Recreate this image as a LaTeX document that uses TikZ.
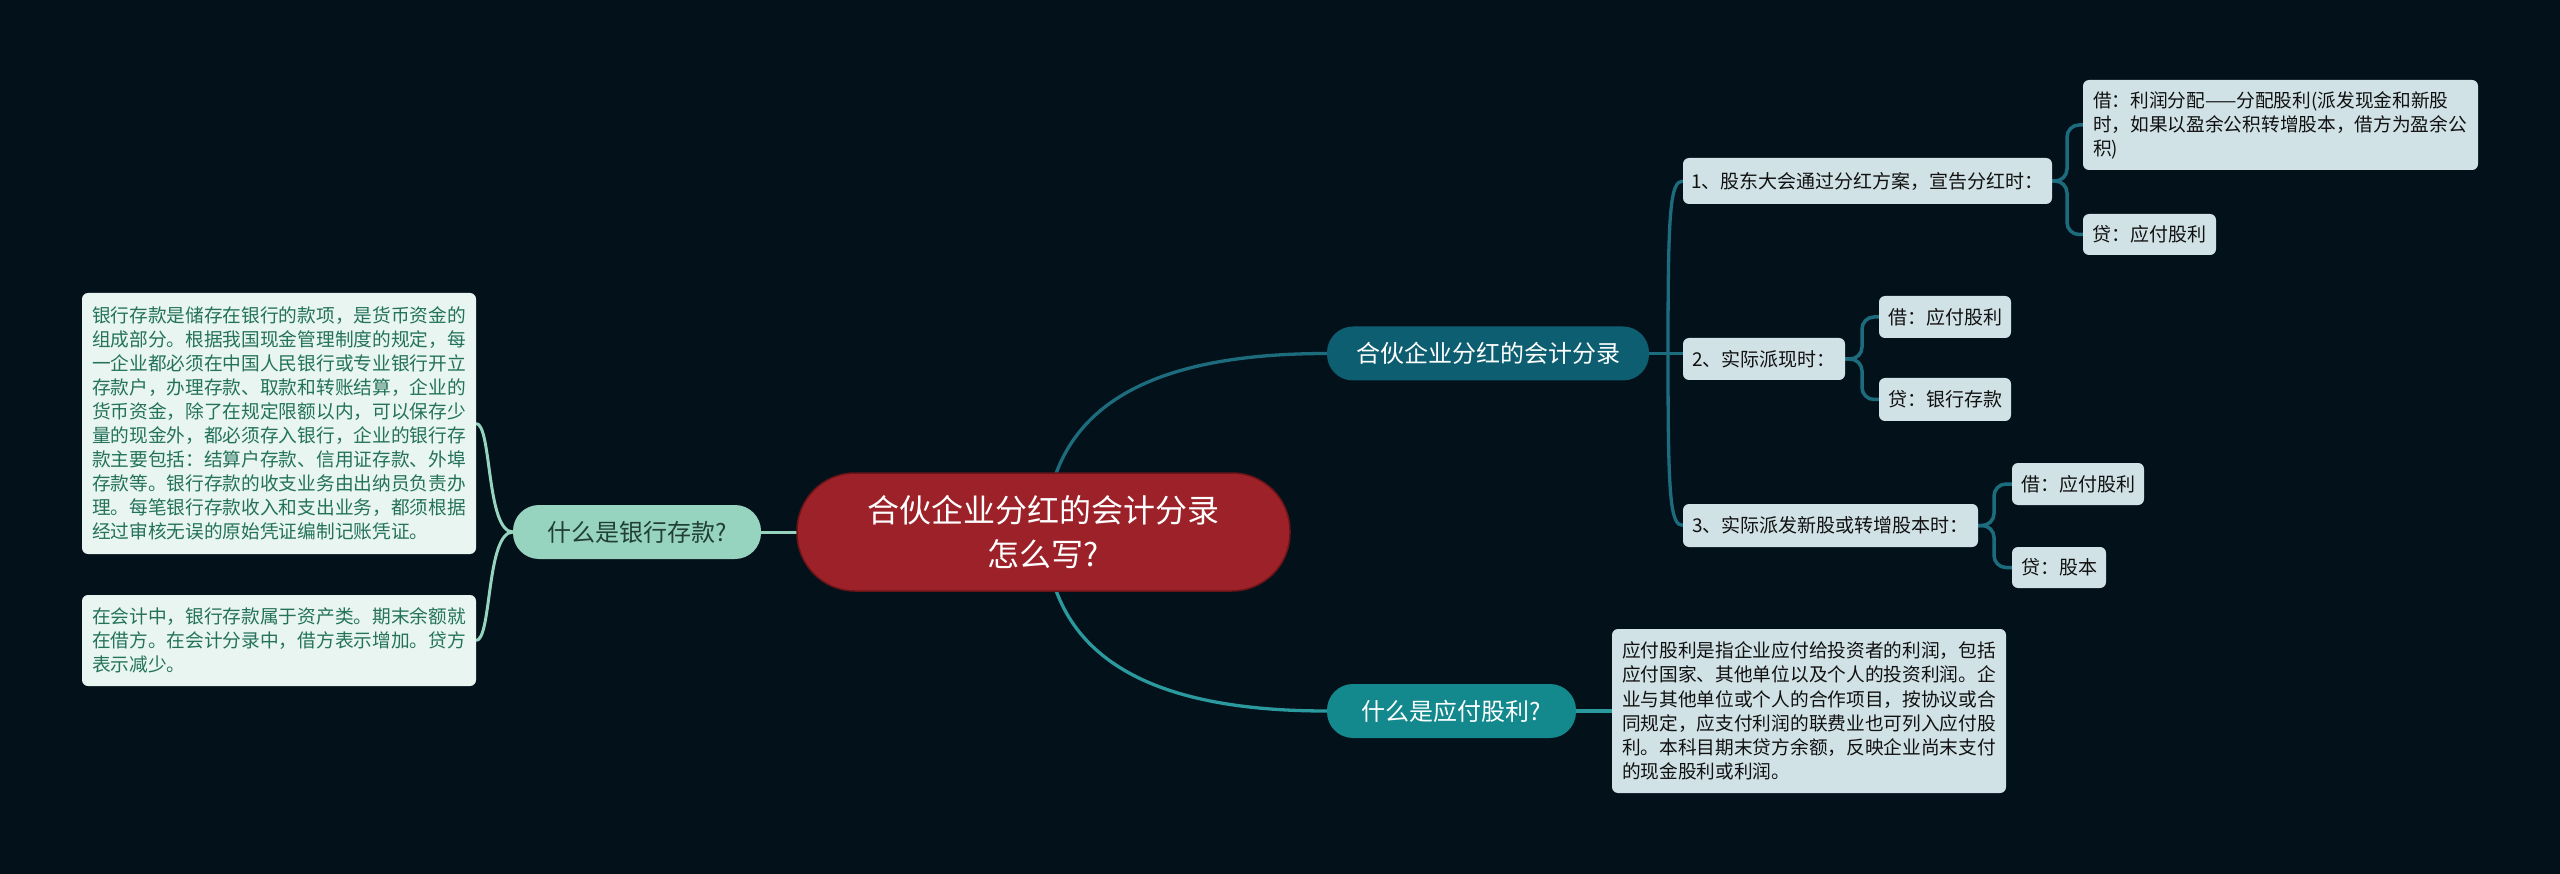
\documentclass[tikz,border=0pt]{standalone}
\usepackage{fontspec}
\setmainfont{Noto Sans CJK SC}
\definecolor{bgc}{HTML}{03111A}
\definecolor{rootred}{HTML}{9C2128}
\definecolor{rootedge}{HTML}{6A1418}
\definecolor{mint}{HTML}{96D4BF}
\definecolor{minttext}{HTML}{213F35}
\definecolor{lboxfill}{HTML}{E8F5F0}
\definecolor{lboxtext}{HTML}{24725A}
\definecolor{tealA}{HTML}{0E5E71}
\definecolor{tealAline}{HTML}{1C6C7E}
\definecolor{tealB}{HTML}{13898E}
\definecolor{tealBline}{HTML}{2A9A9F}
\definecolor{rfill}{HTML}{D1E2E6}
\definecolor{rtext}{HTML}{111111}
\pgfdeclarelayer{bgfill}
\pgfdeclarelayer{links}
\pgfsetlayers{bgfill,links,main}
\begin{document}
\begin{tikzpicture}[x=1pt,y=-1pt,
  every node/.style={inner sep=0pt,outer sep=0pt},
  rootnode/.style={fill=rootred,draw=rootedge,line width=1.5pt,rounded corners=58pt,
    minimum width=493pt,minimum height=118pt,text=white,align=center,
    font=\fontsize{32}{44}\selectfont},
  pill/.style={rounded corners=26pt,minimum height=54pt,font=\fontsize{24}{28}\selectfont},
  bankstyle/.style={pill,fill=mint,text=minttext,minimum width=248pt},
  brA/.style={pill,fill=tealA,text=white,minimum width=322pt},
  brB/.style={pill,fill=tealB,text=white,minimum width=249pt},
  textbox/.style={rounded corners=6pt,inner xsep=10pt,inner ysep=0pt,align=left},
  lbox/.style={textbox,fill=lboxfill,text=lboxtext,text width=374pt,font=\fontsize{18.7}{24}\selectfont},
  rbox/.style={textbox,fill=rfill,text=rtext,font=\fontsize{18.7}{24.3}\selectfont},
  leaf/.style={rounded corners=6pt,fill=rfill,text=rtext,font=\fontsize{19}{23}\selectfont},
  mintlink/.style={draw=mint,line width=3pt},
  linkA/.style={draw=tealAline,line width=3.3pt},
  linkB/.style={draw=tealBline,line width=3.3pt},
  bracket/.style={draw=tealAline,line width=3.5pt,rounded corners=12pt}
]
\begin{pgfonlayer}{bgfill}
\fill[bgc] (0,0) rectangle (2560,874);
\end{pgfonlayer}
\useasboundingbox (0,0) rectangle (2560,874);

% root and first level
\node[rootnode] (root) at (1043.5,532) {合伙企业分红的会计分录\\怎么写?};
\node[bankstyle] (bank) at (637,532) {什么是银行存款?};
\node[brA] (fh) at (1488,353.5) {合伙企业分红的会计分录};
\node[brB] (yf) at (1451.5,711) {什么是应付股利?};

% left text boxes
\node[lbox,minimum height=261pt] (lb1) at (279,423.5) {银行存款是储存在银行的款项，是货币资金的\\组成部分。根据我国现金管理制度的规定，每\\一企业都必须在中国人民银行或专业银行开立\\存款户，办理存款、取款和转账结算，企业的\\货币资金，除了在规定限额以内，可以保存少\\量的现金外，都必须存入银行，企业的银行存\\款主要包括：结算户存款、信用证存款、外埠\\存款等。银行存款的收支业务由出纳员负责办\\理。每笔银行存款收入和支出业务，都须根据\\经过审核无误的原始凭证编制记账凭证。};
\node[lbox,minimum height=91pt] (lb2) at (279,640.5) {在会计中，银行存款属于资产类。期末余额就\\在借方。在会计分录中，借方表示增加。贷方\\表示减少。};

% right text box
\node[rbox,text width=374pt,minimum height=164pt] (rb) at (1809,711) {应付股利是指企业应付给投资者的利润，包括\\应付国家、其他单位以及个人的投资利润。企\\业与其他单位或个人的合作项目，按协议或合\\同规定，应支付利润的联费业也可列入应付股\\利。本科目期末贷方余额，反映企业尚末支付\\的现金股利或利润。};

% items
\node[leaf,minimum width=369pt,minimum height=46pt] (i1) at (1867.5,181) {1、股东大会通过分红方案，宣告分红时：};
\node[leaf,minimum width=162pt,minimum height=42pt] (i2) at (1764,359) {2、实际派现时：};
\node[leaf,minimum width=295pt,minimum height=43pt] (i3) at (1830.5,525.5) {3、实际派发新股或转增股本时：};

% sub items
\node[rbox,text width=375pt,minimum height=90pt,font=\fontsize{18.7}{24}\selectfont] (s1a) at (2280.5,125) {借：利润分配——分配股利(派发现金和新股\\时，如果以盈余公积转增股本，借方为盈余公\\积)};
\node[leaf,minimum width=133pt,minimum height=41pt] (s1b) at (2149.5,234.5) {贷：应付股利};
\node[leaf,minimum width=132pt,minimum height=42pt] (s2a) at (1945,317) {借：应付股利};
\node[leaf,minimum width=132pt,minimum height=43pt] (s2b) at (1945,399.5) {贷：银行存款};
\node[leaf,minimum width=132pt,minimum height=42pt] (s3a) at (2078,484) {借：应付股利};
\node[leaf,minimum width=94pt,minimum height=41pt] (s3b) at (2059,567.5) {贷：股本};

\begin{pgfonlayer}{links}
\draw[mintlink] (root.west) -- (bank.east);
\draw[mintlink] (bank.west) .. controls (486,532) and (492,423.5) .. (lb1.east);
\draw[mintlink] (bank.west) .. controls (486,532) and (492,640.5) .. (lb2.east);
\draw[linkA] ([xshift=10pt,yshift=-8pt]root.north) .. controls (1085,380) and (1200,353.5) .. (fh.west);
\draw[linkB] ([xshift=10pt,yshift=8pt]root.south) .. controls (1085,684) and (1200,711) .. (yf.west);
\draw[linkB] (yf.east) -- (rb.west);
\coordinate (jA) at (1668,353.5);
\draw[linkA] (fh.east) -- (fh.east -| i2.west);
\draw[linkA] (jA) .. controls (1668,210) and (1670,181) .. (i1.west);
\draw[linkA] (jA) .. controls (1668,497) and (1670,525.5) .. (i3.west);
\draw[bracket] (i1.east) -- ++(15,0) |- (s1a.west);
\draw[bracket] (i1.east) -- ++(15,0) |- (s1b.west);
\draw[bracket] (i2.east) -- ++(17,0) |- (s2a.west);
\draw[bracket] (i2.east) -- ++(17,0) |- (s2b.west);
\draw[bracket] (i3.east) -- ++(16,0) |- (s3a.west);
\draw[bracket] (i3.east) -- ++(16,0) |- (s3b.west);
\end{pgfonlayer}
\end{tikzpicture}
\end{document}
